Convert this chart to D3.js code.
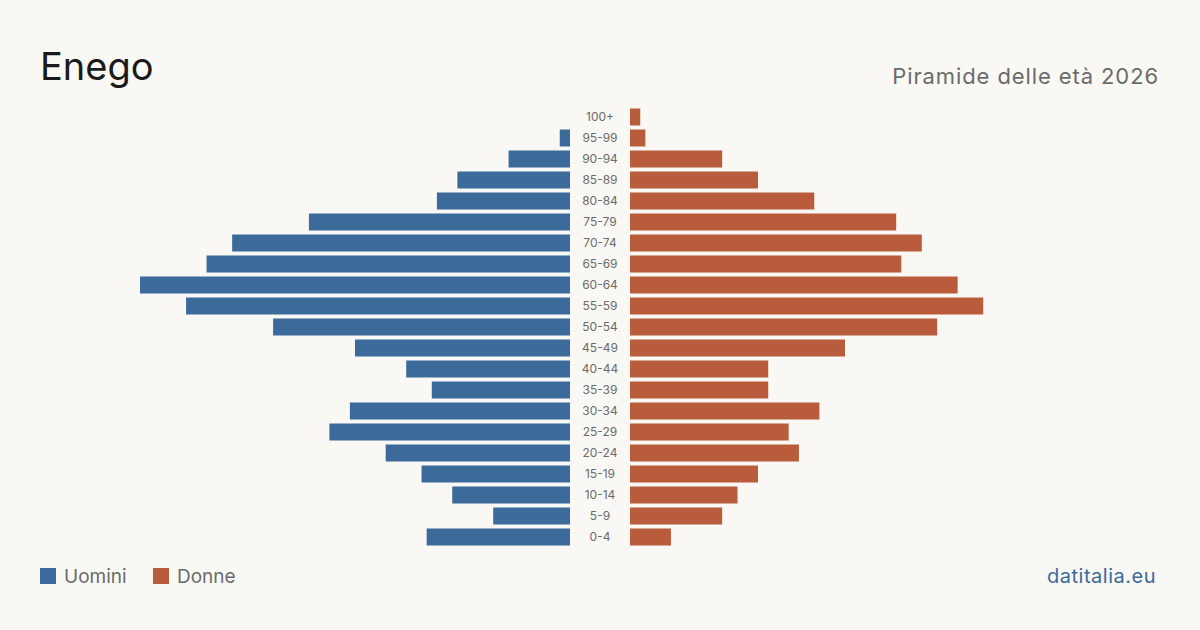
<!DOCTYPE html>
<html>
<head>
<meta charset="utf-8">
<script src="https://cdn.jsdelivr.net/npm/d3@7"></script>
<style>
  html, body { margin: 0; padding: 0; background: #f9f8f4; }
  svg { display: block; font-family: Inter, "Noto Sans", sans-serif; }
</style>
</head>
<body>
<div id="pyramid"></div>
<script>
const ages = ["100+", "95-99", "90-94", "85-89", "80-84", "75-79", "70-74", "65-69", "60-64", "55-59",
  "50-54", "45-49", "40-44", "35-39", "30-34", "25-29", "20-24", "15-19", "10-14", "5-9", "0-4"];
const uomini = [0, 2, 12, 22, 26, 51, 66, 71, 84, 75, 58, 42, 32, 27, 43, 47, 36, 29, 23, 15, 28];
const donne = [2, 3, 18, 25, 36, 52, 57, 53, 64, 69, 60, 42, 27, 27, 37, 31, 33, 25, 21, 18, 8];

const blue = "#3b6a9b", red = "#b95c3c";
const width = 1200, height = 630;

const svg = d3.select("#pyramid").append("svg")
  .attr("width", width)
  .attr("height", height);

svg.append("rect").attr("width", width).attr("height", height).attr("fill", "#f9f8f4");

// titles
svg.append("text")
  .attr("x", 40).attr("y", 80)
  .attr("font-size", "38px")
  .attr("fill", "#1a1a1a")
  .text("Enego");

svg.append("text")
  .attr("x", 1159).attr("y", 84)
  .attr("text-anchor", "end")
  .attr("font-size", "22px")
  .attr("letter-spacing", "0.9px")
  .attr("fill", "#6b6b6b")
  .text("Piramide delle età 2026");

// scales
const y = d3.scaleBand()
  .domain(ages)
  .range([106.5, 547.5])
  .paddingInner(4 / 21)
  .paddingOuter(2 / 21);

const xL = d3.scaleLinear().domain([0, 84]).range([570, 140]);
const xR = d3.scaleLinear().domain([0, 84]).range([630, 1060]);

svg.append("g").selectAll("rect")
  .data(ages)
  .join("rect")
  .attr("x", (d, i) => xL(uomini[i]))
  .attr("y", d => y(d))
  .attr("width", (d, i) => xL(0) - xL(uomini[i]))
  .attr("height", y.bandwidth())
  .attr("fill", blue);

svg.append("g").selectAll("rect")
  .data(ages)
  .join("rect")
  .attr("x", xR(0))
  .attr("y", d => y(d))
  .attr("width", (d, i) => xR(donne[i]) - xR(0))
  .attr("height", y.bandwidth())
  .attr("fill", red);

svg.append("g").selectAll("text")
  .data(ages)
  .join("text")
  .attr("x", 600)
  .attr("y", d => y(d) + y.bandwidth() / 2)
  .attr("dy", "0.35em")
  .attr("text-anchor", "middle")
  .attr("font-size", "12px")
  .attr("fill", "#6b6b6b")
  .text(d => d);

// legend
const legend = [{ label: "Uomini", color: blue, x: 40 }, { label: "Donne", color: red, x: 153 }];
const lg = svg.append("g").selectAll("g")
  .data(legend)
  .join("g")
  .attr("transform", d => `translate(${d.x},568)`);
lg.append("rect").attr("width", 16).attr("height", 16).attr("fill", d => d.color);
lg.append("text")
  .attr("x", 24).attr("y", 15)
  .attr("font-size", "19px")
  .attr("fill", "#6b6b6b")
  .text(d => d.label);

svg.append("text")
  .attr("x", 1156).attr("y", 583)
  .attr("text-anchor", "end")
  .attr("font-size", "20px")
  .attr("letter-spacing", "0.5px")
  .attr("fill", blue)
  .text("datitalia.eu");
</script>
</body>
</html>
